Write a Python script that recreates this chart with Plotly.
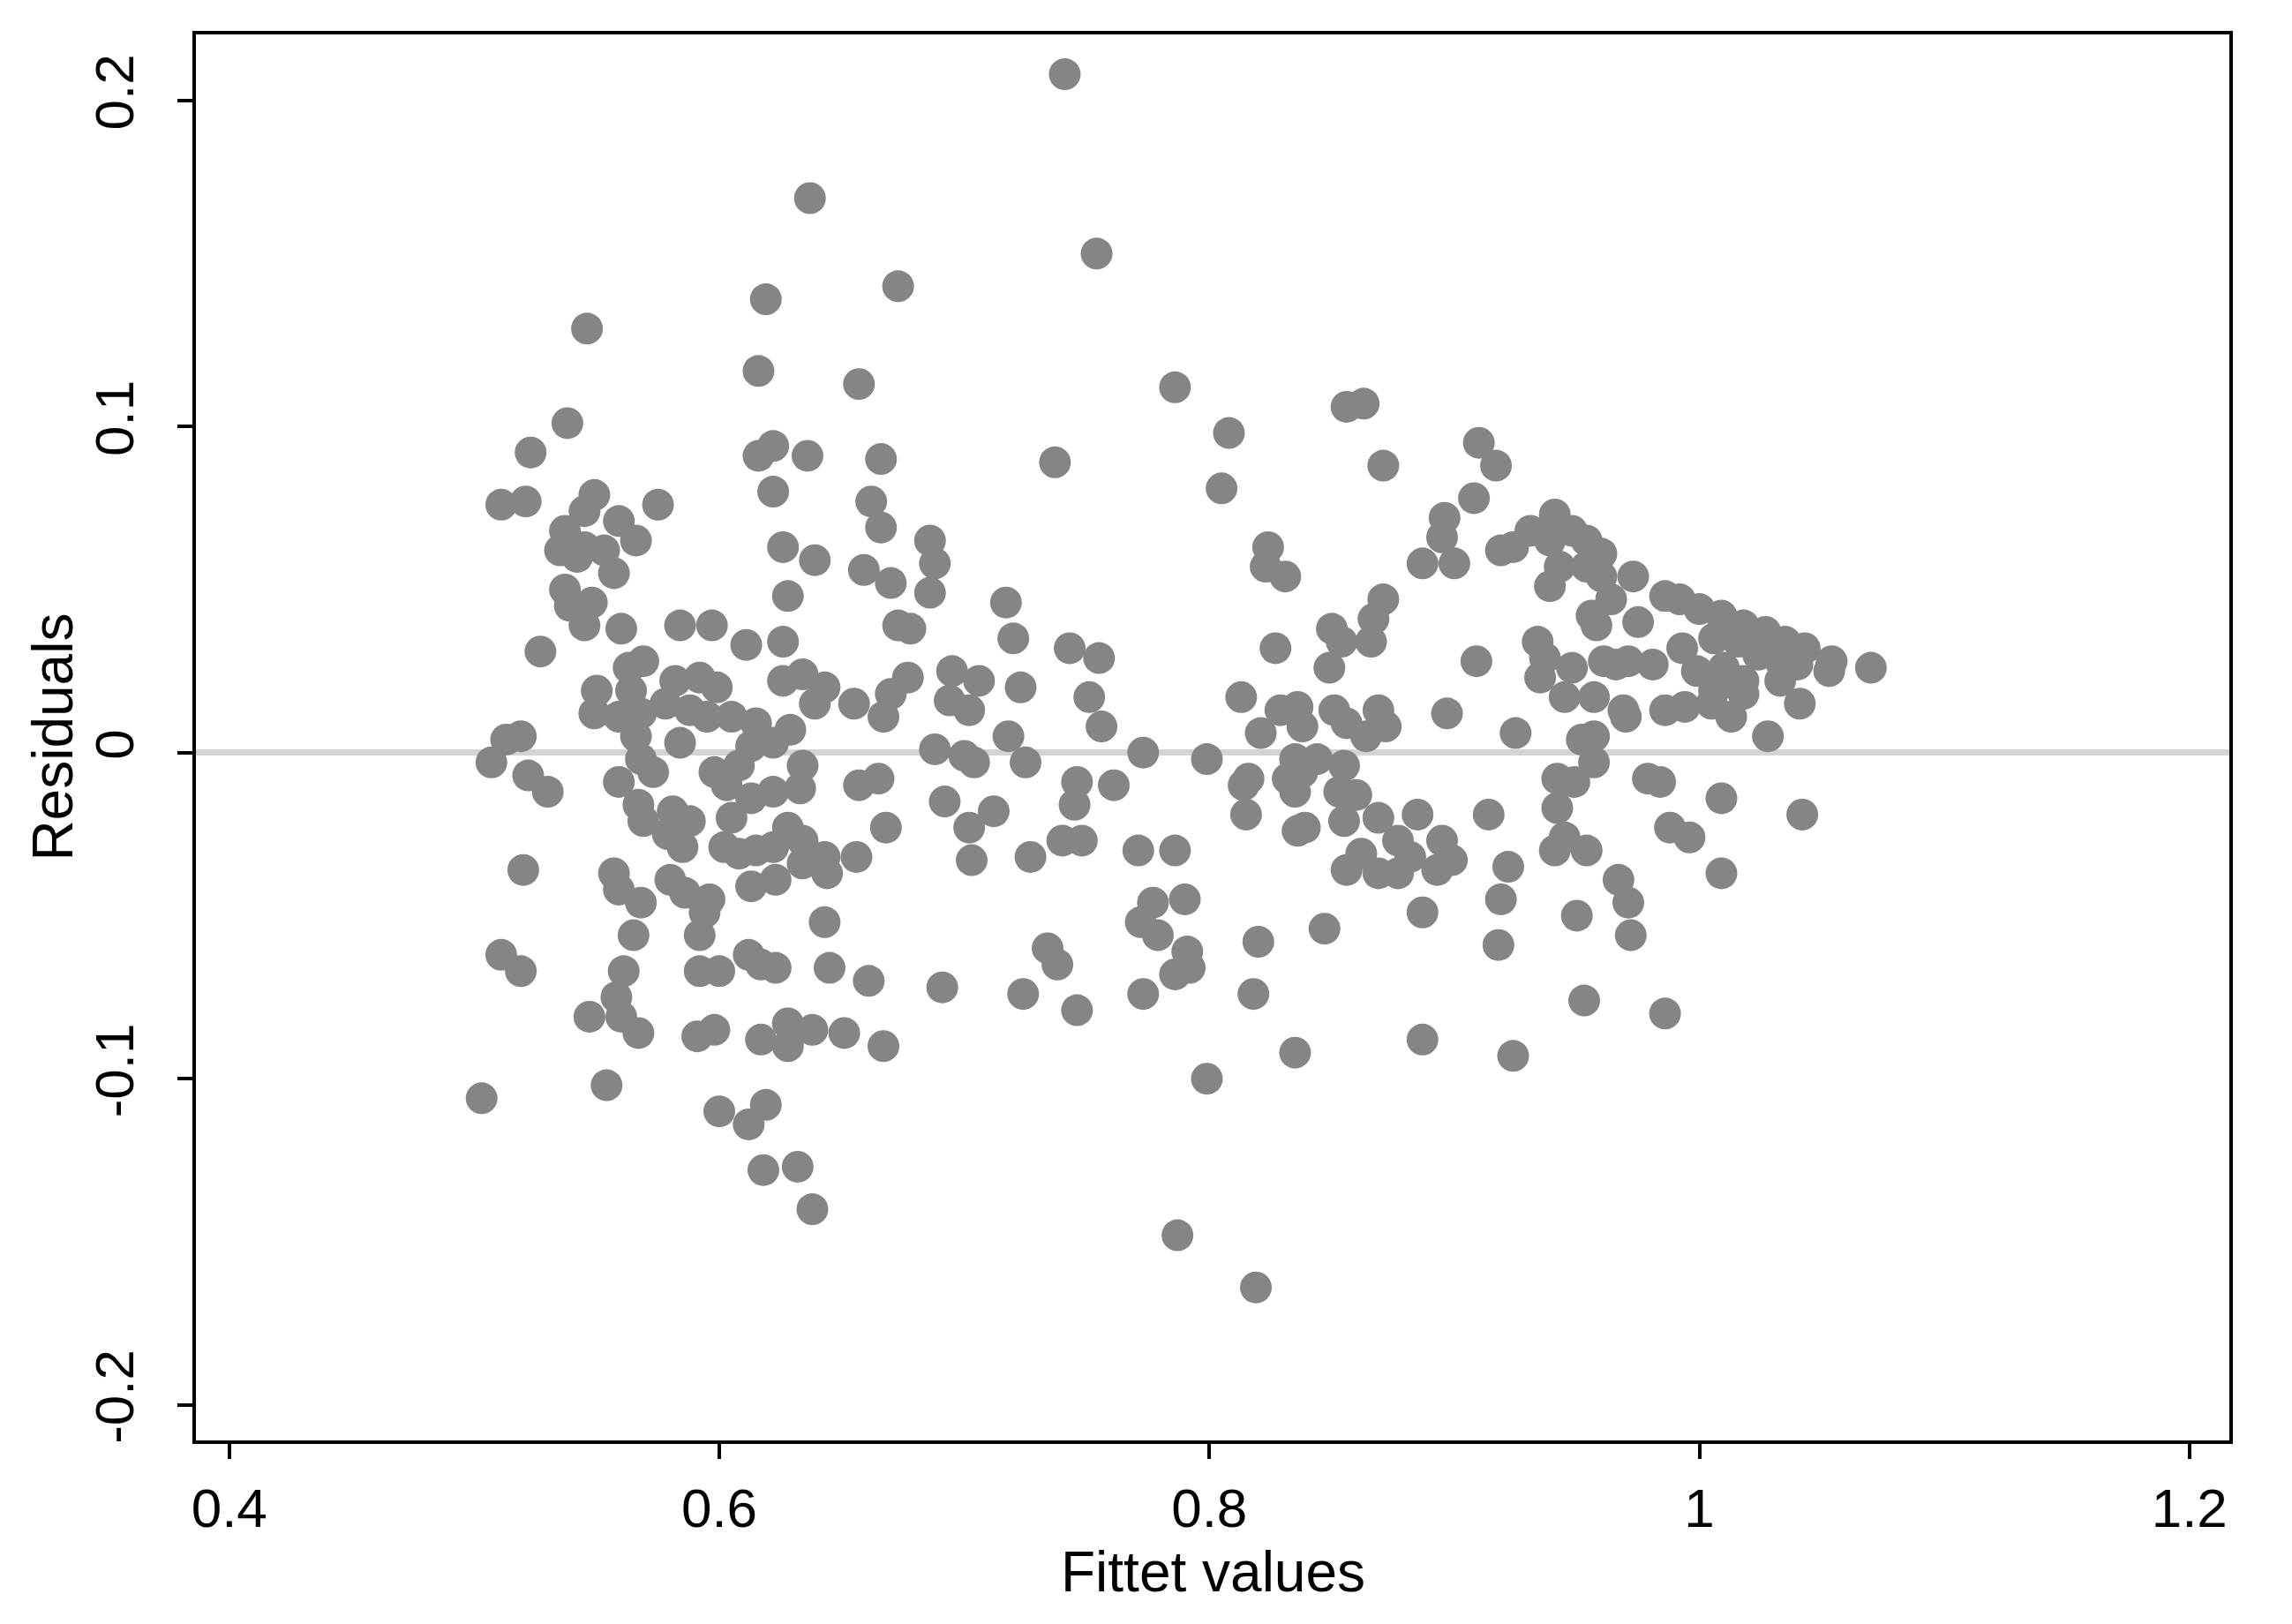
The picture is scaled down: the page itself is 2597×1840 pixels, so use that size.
import plotly.graph_objects as go

# residuals vs fitted values
fitted_values = [
    0.637, 0.673, 0.619, 0.546, 0.616, 0.657, 0.538, 0.523, 0.622, 0.616,
    0.636, 0.666, 0.511, 0.521, 0.549, 0.545, 0.537, 0.559, 0.566, 0.535,
    0.542, 0.545, 0.553, 0.557, 0.575, 0.537, 0.548, 0.539, 0.545, 0.560,
    0.527, 0.622, 0.626, 0.639, 0.628, 0.584, 0.597, 0.611, 0.626, 0.662,
    0.666, 0.686, 0.688, 0.659, 0.670, 0.686, 0.673, 0.678, 0.695, 0.694,
    0.688, 0.692, 0.677, 0.670, 0.667, 0.665, 0.668, 0.519, 0.513, 0.507,
    0.522, 0.530, 0.520, 0.643, 0.569, 0.563, 0.550, 0.564, 0.582, 0.592,
    0.599, 0.549, 0.559, 0.568, 0.578, 0.588, 0.595, 0.605, 0.615, 0.626,
    0.634, 0.643, 0.639, 0.629, 0.622, 0.613, 0.655, 0.566, 0.584, 0.568,
    0.573, 0.559, 0.598, 0.608, 0.603, 0.613, 0.622, 0.633, 0.634, 0.657,
    0.567, 0.569, 0.581, 0.588, 0.579, 0.585, 0.605, 0.602, 0.608, 0.615,
    0.622, 0.628, 0.634, 0.634, 0.643, 0.644, 0.656, 0.557, 0.559, 0.580,
    0.586, 0.596, 0.568, 0.613, 0.623, 0.565, 0.594, 0.592, 0.511, 0.519,
    0.561, 0.558, 0.547, 0.560, 0.567, 0.592, 0.600, 0.612, 0.617, 0.623,
    0.645, 0.661, 0.691, 0.591, 0.598, 0.617, 0.628, 0.628, 0.638, 0.651,
    0.667, 0.503, 0.554, 0.600, 0.619, 0.612, 0.618, 0.632, 0.638, 0.741,
    0.754, 0.786, 0.808, 0.856, 0.863, 0.737, 0.871, 0.805, 0.824, 0.823,
    0.831, 0.717, 0.720, 0.743, 0.755, 0.706, 0.723, 0.702, 0.751, 0.756,
    0.718, 0.827, 0.871, 0.867, 0.850, 0.854, 0.866, 0.849, 0.813, 0.829,
    0.836, 0.821, 0.838, 0.851, 0.856, 0.869, 0.872, 0.864, 0.700, 0.704,
    0.725, 0.773, 0.799, 0.835, 0.844, 0.855, 0.832, 0.838, 0.816, 0.814,
    0.835, 0.853, 0.860, 0.746, 0.761, 0.745, 0.712, 0.702, 0.815, 0.839,
    0.836, 0.855, 0.869, 0.885, 0.877, 0.862, 0.856, 0.869, 0.877, 0.882,
    0.703, 0.727, 0.740, 0.748, 0.771, 0.786, 0.790, 0.777, 0.734, 0.738,
    0.724, 0.746, 0.772, 0.779, 0.791, 0.792, 0.786, 0.773, 0.820, 0.818,
    0.847, 0.887, 0.887, 0.835, 0.799, 0.787, 0.819, 0.910, 0.917, 0.908,
    0.896, 0.895, 0.887, 0.900, 0.919, 0.924, 0.931, 0.941, 0.948, 0.939,
    0.954, 0.960, 0.943, 0.939, 0.954, 0.960, 0.964, 0.956, 0.958, 0.909,
    0.934, 0.937, 0.935, 0.948, 0.945, 0.957, 0.961, 0.966, 0.969, 0.897,
    0.973, 0.975, 0.986, 0.992, 1.000, 1.009, 1.018, 1.027, 1.035, 1.043,
    1.054, 1.053, 1.070, 0.993, 1.006, 1.016, 1.024, 1.033, 1.040, 1.033,
    1.041, 0.999, 1.010, 1.018, 1.018, 1.006, 0.986, 0.994, 1.005, 1.013,
    0.981, 0.971, 0.970, 1.028, 0.925, 0.957, 0.952, 0.957, 0.942, 0.949,
    0.942, 0.979, 0.984, 1.009, 1.042, 0.914, 0.895, 0.893, 0.899, 0.922,
    0.941, 0.945, 0.954, 0.988, 0.996, 1.009, 0.967, 0.971, 0.919, 0.950,
    0.972, 0.918, 0.953, 0.986, 0.924,
]

residuals = [
    0.170, 0.143, 0.139, 0.130, 0.117, 0.113, 0.101, 0.092, 0.094, 0.091,
    0.091, 0.090, 0.076, 0.077, 0.079, 0.074, 0.068, 0.071, 0.065, 0.062,
    0.060, 0.063, 0.062, 0.055, 0.076, 0.050, 0.046, 0.045, 0.039, 0.038,
    0.031, 0.080, 0.063, 0.059, 0.048, 0.039, 0.039, 0.033, 0.034, 0.077,
    0.069, 0.065, 0.058, 0.056, 0.052, 0.049, 0.039, 0.038, 0.025, 0.016,
    0.001, -0.015, 0.023, 0.018, 0.011, -0.008, -0.023, 0.005, 0.004, -0.003,
    -0.007, -0.012, -0.036, -0.052, 0.028, 0.026, 0.019, 0.019, 0.022, 0.023,
    0.020, 0.012, 0.011, 0.012, 0.015, 0.013, 0.011, 0.011, 0.009, 0.022,
    0.024, 0.020, 0.015, 0.007, 0.003, 0.002, 0.015, 0.005, 0.003, -0.002,
    -0.006, -0.009, -0.006, -0.004, -0.010, -0.014, -0.012, -0.011, -0.004, -0.010,
    -0.016, -0.021, -0.018, -0.021, -0.025, -0.029, -0.020, -0.029, -0.031, -0.030,
    -0.029, -0.023, -0.027, -0.034, -0.032, -0.037, -0.032, -0.037, -0.042, -0.039,
    -0.043, -0.045, -0.046, -0.041, -0.039, -0.056, -0.049, -0.056, -0.062, -0.067,
    -0.067, -0.075, -0.081, -0.081, -0.086, -0.067, -0.067, -0.062, -0.065, -0.066,
    -0.066, -0.070, -0.072, -0.087, -0.085, -0.088, -0.083, -0.090, -0.085, -0.086,
    -0.090, -0.106, -0.102, -0.110, -0.108, -0.114, -0.128, -0.127, -0.140, 0.208,
    0.153, 0.112, 0.098, 0.106, 0.107, 0.089, 0.088, 0.081, 0.063, 0.057,
    0.054, 0.046, 0.035, 0.032, 0.029, 0.022, 0.020, 0.013, 0.017, 0.008,
    0.005, 0.032, 0.047, 0.041, 0.038, 0.034, 0.034, 0.026, 0.017, 0.013,
    0.014, 0.006, 0.008, 0.013, 0.009, 0.013, 0.008, 0.005, -0.001, -0.003,
    -0.003, 0.000, -0.002, -0.002, -0.002, -0.004, -0.008, -0.006, -0.008, -0.010,
    -0.012, -0.012, -0.013, -0.009, -0.010, -0.016, -0.018, -0.023, -0.019, -0.023,
    -0.024, -0.021, -0.020, -0.019, -0.027, -0.031, -0.036, -0.037, -0.037, -0.032,
    -0.033, -0.032, -0.027, -0.027, -0.030, -0.030, -0.045, -0.046, -0.060, -0.065,
    -0.074, -0.079, -0.052, -0.056, -0.061, -0.066, -0.068, -0.074, -0.058, -0.074,
    -0.054, -0.049, -0.088, -0.092, -0.100, -0.148, -0.164, 0.095, 0.088, 0.078,
    0.072, 0.066, 0.058, 0.058, 0.062, 0.063, 0.068, 0.073, 0.068, 0.065,
    0.065, 0.061, 0.057, 0.051, 0.057, 0.054, 0.047, 0.042, 0.039, 0.028,
    0.034, 0.029, 0.023, 0.026, 0.017, 0.017, 0.028, 0.027, 0.013, 0.012,
    0.054, 0.040, 0.048, 0.047, 0.044, 0.042, 0.039, 0.037, 0.034, 0.032,
    0.028, 0.025, 0.026, 0.032, 0.035, 0.034, 0.030, 0.028, 0.027, 0.022,
    0.015, 0.025, 0.026, 0.022, 0.018, 0.019, 0.013, 0.014, 0.015, 0.011,
    0.027, 0.028, 0.011, 0.005, 0.006, 0.005, 0.004, -0.003, -0.008, -0.009,
    -0.017, -0.008, -0.009, -0.014, -0.019, -0.019, -0.027, -0.036, -0.033, -0.035,
    -0.030, -0.026, -0.030, -0.023, -0.026, -0.037, -0.039, -0.046, -0.045, -0.050,
    -0.056, -0.059, -0.076, -0.080, -0.093,
]

x_ticks = [0.4, 0.6, 0.8, 1.0, 1.2]
x_tick_labels = ["0.4", "0.6", "0.8", "1", "1.2"]
y_ticks = [-0.2, -0.1, 0.0, 0.1, 0.2]
y_tick_labels = ["-0.2", "-0.1", "0", "0.1", "0.2"]

font_family = "Liberation Sans, Arial, sans-serif"

fig = go.Figure()
fig.add_trace(go.Scatter(
    x=fitted_values,
    y=residuals,
    mode="markers",
    marker=dict(size=36, color="#858585", line=dict(width=0)),
    showlegend=False,
))

fig.update_layout(
    width=2597,
    height=1840,
    margin=dict(l=214, r=79, t=31, b=216),
    paper_bgcolor="white",
    plot_bgcolor="white",
    font=dict(family=font_family, color="black"),
)

fig.update_xaxes(
    range=[0.3864, 1.2163],
    tickvals=x_ticks,
    ticktext=x_tick_labels,
    ticks="outside",
    ticklen=17,
    tickwidth=3.5,
    tickcolor="black",
    ticklabelstandoff=3,
    tickfont=dict(size=62, family=font_family, color="black"),
    showline=True,
    linecolor="black",
    linewidth=3.5,
    mirror=True,
    showgrid=False,
    zeroline=False,
    automargin=False,
)

fig.update_yaxes(
    range=[-0.2109, 0.2202],
    tickvals=y_ticks,
    ticktext=y_tick_labels,
    tickangle=-90,
    ticks="outside",
    ticklen=17,
    tickwidth=3.5,
    tickcolor="black",
    ticklabelstandoff=25,
    tickfont=dict(size=62, family=font_family, color="black"),
    showline=True,
    linecolor="black",
    linewidth=3.5,
    mirror=True,
    showgrid=False,
    zeroline=True,
    zerolinecolor="#d4d4d4",
    zerolinewidth=7,
    automargin=False,
)

# axis titles as annotations so they sit where the reference has them
fig.add_annotation(
    text="Fittet values", xref="paper", yref="paper", x=0.5, y=-0.0938,
    xanchor="center", yanchor="middle", showarrow=False,
    font=dict(size=64, family=font_family, color="black"),
)
fig.add_annotation(
    text="Residuals", xref="paper", yref="paper", x=-0.0707, y=0.5,
    xanchor="center", yanchor="middle", textangle=-90, showarrow=False,
    font=dict(size=64, family=font_family, color="black"),
)

fig.write_html("out.html")
